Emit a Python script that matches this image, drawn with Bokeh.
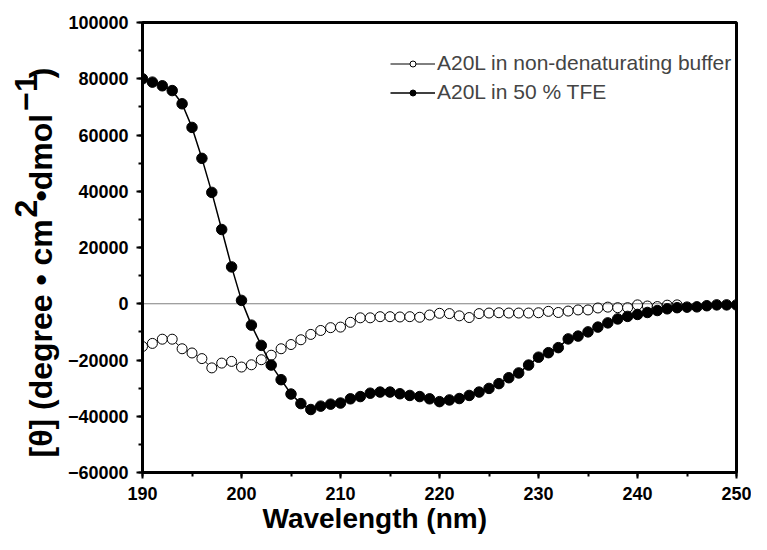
from bokeh.plotting import figure
from bokeh.models import Span, Legend, LegendItem, Range1d, BasicTicker, BasicTickFormatter, Title
from bokeh.embed import file_html
from bokeh.resources import INLINE

# ---- data ----
wavelength_tfe = list(range(190, 251))
theta_tfe = [80000, 78800, 77500, 75800, 71100, 62700, 51700, 39600, 26400, 13100,
             1200, -7600, -14800, -21800, -27000, -32100, -35500, -37600, -36400, -35700,
             -35300, -33800, -33000, -31800, -31400, -31400, -32000, -32600, -33000, -33800,
             -34800, -34200, -33700, -32600, -31400, -30100, -28400, -26300, -24600, -21800,
             -19000, -17400, -15600, -12500, -11500, -10000, -8300, -6800, -5400, -4500,
             -3800, -3100, -2400, -1800, -1400, -1200, -1100, -700, -400, -400,
             -400]
wavelength_buf = list(range(190, 245))
theta_buf = [-15200, -14100, -12600, -12600, -16000, -17500, -19500, -22800, -21100, -20500,
             -22500, -21700, -19900, -18300, -16000, -14500, -12800, -10900, -9500, -8500,
             -8300, -6600, -5000, -5000, -4600, -4600, -4700, -4600, -4800, -4000,
             -3400, -3500, -4300, -4900, -3500, -3300, -3200, -3300, -3300, -3300,
             -3200, -2700, -3100, -2600, -2200, -2200, -1500, -1200, -1400, -1400,
             -400, -800, -1000, -500, -400]
label_buf = "A20L in non-denaturating buffer"
label_tfe = "A20L in 50 % TFE"
x_title = "Wavelength (nm)"
NB = "\u00a0"
# y title: main line (gaps left for the raised parts) and the raised superscripts
y_title_main = "[θ] (degree • cm" + NB * 2 + "•dmol" + NB * 4 + ")"
y_title_sup = "2" + NB * 10 + "−1"

FONT = "Liberation Sans"

p = figure(width=751, height=534, output_backend="svg", toolbar_location=None,
           x_range=Range1d(190, 250), y_range=Range1d(-60000, 100000),
           min_border_left=142, min_border_right=15, min_border_top=22, min_border_bottom=62,
           frame_width=594, frame_height=450)
p.grid.visible = False
p.outline_line_color = "black"
p.outline_line_width = 3
p.background_fill_color = "white"
p.border_fill_color = "white"

# zero line
p.add_layout(Span(location=0, dimension="width", line_color="black", line_width=1,
                  line_dash="1 1"))

# buffer series (open circles)
l1 = p.line(wavelength_buf, theta_buf, line_color="black", line_width=1)
s1 = p.scatter(wavelength_buf, theta_buf, size=10, marker="circle", fill_color="white",
               line_color="black", line_width=1)
# TFE series (filled circles)
l2 = p.line(wavelength_tfe, theta_tfe, line_color="black", line_width=1.5)
s2 = p.scatter(wavelength_tfe, theta_tfe, size=10.5, marker="circle", fill_color="black",
               line_color="black", line_width=1)

legend = Legend(items=[LegendItem(label=label_buf, renderers=[l1, s1]),
                       LegendItem(label=label_tfe, renderers=[l2, s2])],
                border_line_color=None, background_fill_alpha=0,
                label_text_font=FONT, label_text_font_size="21px",
                glyph_width=45, glyph_height=15, label_height=26, spacing=3,
                label_standoff=2, margin=0, padding=0)
legend.location = (248, 367)
p.add_layout(legend)

p.xaxis.ticker = BasicTicker(desired_num_ticks=7, num_minor_ticks=2)
p.yaxis.ticker = BasicTicker(desired_num_ticks=8, num_minor_ticks=2)
p.yaxis.formatter = BasicTickFormatter(use_scientific=False)

for ax in (p.xaxis, p.yaxis):
    ax.axis_line_width = 3
    ax.axis_line_color = "black"
    ax.major_tick_line_width = 2
    ax.minor_tick_line_width = 2
    ax.major_tick_out = 6
    ax.major_tick_in = 0
    ax.minor_tick_out = 4
    ax.minor_tick_in = 0
    ax.major_label_text_font = FONT
    ax.major_label_text_font_style = "bold"
    ax.major_label_text_font_size = "18px"
    ax.major_label_text_color = "black"

p.xaxis.major_label_standoff = 8
p.yaxis.major_label_standoff = 8

# x title (below), placed from the left edge of the frame
p.add_layout(Title(text=x_title, align="left", offset=120, standoff=-4,
                   vertical_align="bottom", text_font=FONT, text_font_style="bold",
                   text_font_size="28px", text_color="black"), "below")

# y title (left): main text, then raised superscripts
p.add_layout(Title(text=y_title_main, align="left", offset=15, standoff=12,
                   vertical_align="bottom", text_font=FONT, text_font_style="bold",
                   text_font_size="32px", text_color="black"), "left")
p.add_layout(Title(text=y_title_sup, align="left", offset=255, standoff=-58,
                   vertical_align="bottom", text_font=FONT, text_font_style="bold",
                   text_font_size="32px", text_color="black"), "left")

open("out.html", "w").write(file_html(p, INLINE))
